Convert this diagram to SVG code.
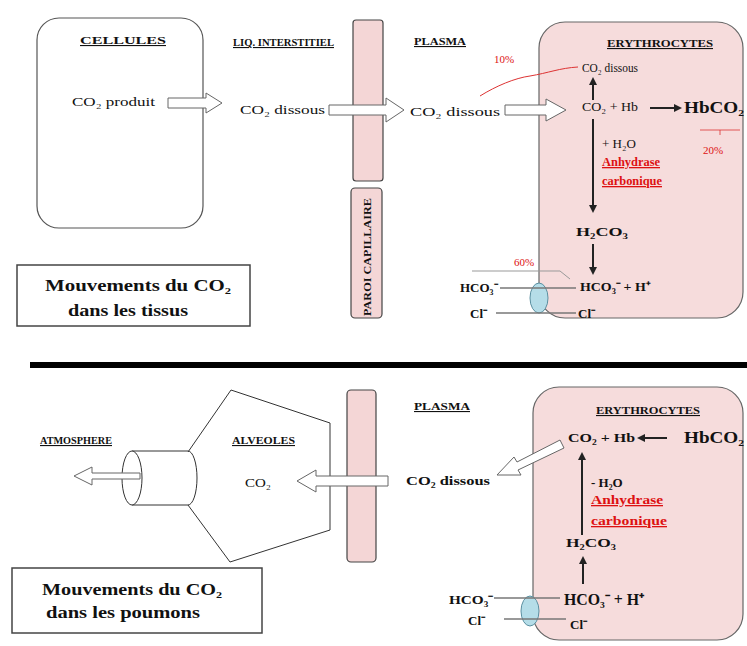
<svg xmlns="http://www.w3.org/2000/svg" width="747" height="646" viewBox="0 0 747 646">
  <defs>
    <style>
      text { font-family: "Liberation Serif", "Times New Roman", serif; fill: #111; }
      .hd { font-size: 11px; font-weight: bold; text-decoration: underline; }
      .lb { font-size: 13px; }
      .lbb { font-size: 13px; font-weight: bold; }
      .big { font-size: 16px; font-weight: bold; }
      .redu { fill: #d11; font-size: 13px; font-weight: bold; text-decoration: underline; }
      .redsm { fill: #d11; font-size: 11px; }
      .cap { font-size: 16px; font-weight: bold; }
      .cell { fill: #fff; stroke: #555; stroke-width: 1.2; }
      .ery { fill: #f6dcdc; stroke: #666; stroke-width: 1.2; }
      .wall { fill: #f4d6d6; stroke: #444; stroke-width: 1.2; }
      .hollow { fill: #fff; stroke: #666; stroke-width: 1; }
      .arr { stroke: #222; stroke-width: 2; fill: none; marker-end: url(#head); }
      .thin { stroke: #333; stroke-width: 1; fill: none; }
      .chan { fill: #b5dde8; stroke: #5a8fa0; stroke-width: 1; }
      .mem { stroke: #777; stroke-width: 1.5; fill: none; }
    </style>
    <marker id="head" markerWidth="8" markerHeight="8" refX="6" refY="4" orient="auto" markerUnits="userSpaceOnUse">
      <path d="M0,0 L8,4 L0,8 Z" fill="#222"/>
    </marker>
  </defs>

  <rect width="747" height="646" fill="#fff"/>

  <!-- ===== Tissues ===== -->
  <g id="cellules">
    <rect class="cell" x="37" y="18" width="166" height="210" rx="22"/>
    <text class="hd" x="80" y="44" textLength="86" lengthAdjust="spacingAndGlyphs">CELLULES</text>
    <text class="lb" x="72" y="106" textLength="83" lengthAdjust="spacingAndGlyphs">CO₂ produit</text>
  </g>

  <g id="liquide-interstitiel">
    <text class="hd" x="233" y="46" textLength="101" lengthAdjust="spacingAndGlyphs">LIQ. INTERSTITIEL</text>
    <text class="lb" x="240" y="114" textLength="85" lengthAdjust="spacingAndGlyphs">CO₂ dissous</text>
  </g>

  <g id="paroi-tissus">
    <rect class="wall" x="353" y="20" width="30" height="161" rx="3"/>
    <rect class="wall" x="351" y="188" width="31" height="130" rx="4"/>
    <text transform="translate(371,316) rotate(-90)" font-size="10" font-weight="bold" font-family="Liberation Sans, Arial, sans-serif" textLength="118" lengthAdjust="spacingAndGlyphs">PAROI CAPILLAIRE</text>
  </g>

  <g id="plasma-tissus">
    <text class="hd" x="414" y="45" textLength="52" lengthAdjust="spacingAndGlyphs">PLASMA</text>
    <text class="lb" x="410" y="116" textLength="90" lengthAdjust="spacingAndGlyphs">CO₂ dissous</text>
    <text class="redsm" x="494" y="63">10%</text>
  </g>

  <g id="erythrocyte-tissus">
    <rect class="ery" x="539" y="22" width="204" height="296" rx="26"/>
    <text class="hd" x="607" y="47" textLength="106" lengthAdjust="spacingAndGlyphs">ERYTHROCYTES</text>
    <text class="lb" x="582" y="72" font-size="11" textLength="56" lengthAdjust="spacingAndGlyphs">CO₂ dissous</text>
    <text class="lb" x="582" y="111" font-size="11" textLength="56" lengthAdjust="spacingAndGlyphs">CO₂ + Hb</text>
    <text class="big" x="684" y="113" textLength="60" lengthAdjust="spacingAndGlyphs">HbCO₂</text>
    <text class="redsm" x="703" y="154">20%</text>
    <text class="lb" x="602" y="148" font-size="11">+ H₂O</text>
    <text class="redu" x="602" y="166" textLength="58" lengthAdjust="spacingAndGlyphs">Anhydrase</text>
    <text class="redu" x="602" y="185" textLength="60" lengthAdjust="spacingAndGlyphs">carbonique</text>
    <text class="lbb" x="576" y="236" font-size="14" textLength="52" lengthAdjust="spacingAndGlyphs">H₂CO₃</text>
    <text class="lbb" x="580" y="291" font-size="11" textLength="70" lengthAdjust="spacingAndGlyphs">HCO₃⁻ + H⁺</text>
    <text class="lbb" x="578" y="318" font-size="11">Cl⁻</text>
  </g>

  <g id="echangeur-tissus">
    <text class="lbb" x="460" y="292" font-size="11">HCO₃⁻</text>
    <text class="lbb" x="470" y="318" font-size="11">Cl⁻</text>
    <text class="redsm" x="514" y="266">60%</text>
    <ellipse class="chan" cx="539" cy="298" rx="9" ry="15"/>
  </g>

  <g id="legende-tissus">
    <rect x="17" y="265" width="233" height="61" fill="#fff" stroke="#444" stroke-width="1.5"/>
    <text class="cap" x="45" y="291" textLength="186" lengthAdjust="spacingAndGlyphs">Mouvements du CO₂</text>
    <text class="cap" x="68" y="316" textLength="120" lengthAdjust="spacingAndGlyphs">dans les tissus</text>
  </g>

  <!-- divider -->
  <rect x="30" y="362" width="717" height="6" fill="#000"/>

  <!-- ===== Lungs ===== -->
  <g id="atmosphere">
    <text class="hd" x="40" y="444" textLength="72" lengthAdjust="spacingAndGlyphs">ATMOSPHERE</text>
  </g>

  <g id="alveoles">
    <path class="thin" d="M188,452 L231,390 L330,423 L330,530 L230,562 L188,505"/>
    <!-- airway drawn as a cylinder -->
    <path class="thin" d="M132,451 L188,451 A9,27 0 0 1 188,505 L132,505"/>
    <ellipse cx="132" cy="478" rx="10" ry="27" fill="#fff" stroke="#333" stroke-width="1"/>
    <text class="hd" x="232" y="444" textLength="63" lengthAdjust="spacingAndGlyphs">ALVEOLES</text>
    <text class="lb" x="245" y="487" textLength="26" lengthAdjust="spacingAndGlyphs">CO₂</text>
  </g>

  <g id="paroi-poumons">
    <rect class="wall" x="347" y="390" width="29" height="172" rx="4"/>
  </g>

  <g id="plasma-poumons">
    <text class="hd" x="414" y="410" textLength="56" lengthAdjust="spacingAndGlyphs">PLASMA</text>
    <text class="lbb" x="406" y="485" textLength="84" lengthAdjust="spacingAndGlyphs">CO₂ dissous</text>
  </g>

  <g id="erythrocyte-poumons">
    <rect class="ery" x="533" y="387" width="210" height="253" rx="26"/>
    <text class="hd" x="596" y="414" textLength="104" lengthAdjust="spacingAndGlyphs">ERYTHROCYTES</text>
    <text class="lbb" x="568" y="442" textLength="67" lengthAdjust="spacingAndGlyphs">CO₂ + Hb</text>
    <text class="big" x="684" y="443" textLength="60" lengthAdjust="spacingAndGlyphs">HbCO₂</text>
    <text class="lbb" x="591" y="487">- H₂O</text>
    <text class="redu" x="591" y="504" textLength="72" lengthAdjust="spacingAndGlyphs">Anhydrase</text>
    <text class="redu" x="591" y="525" textLength="76" lengthAdjust="spacingAndGlyphs">carbonique</text>
    <text class="lbb" x="566" y="547" font-size="12" textLength="50" lengthAdjust="spacingAndGlyphs">H₂CO₃</text>
    <text class="big" x="564" y="605" textLength="80" lengthAdjust="spacingAndGlyphs">HCO₃⁻ + H⁺</text>
    <text class="lbb" x="570" y="629">Cl⁻</text>
  </g>

  <g id="echangeur-poumons">
    <text class="lbb" x="449" y="604" font-size="12" textLength="44" lengthAdjust="spacingAndGlyphs">HCO₃⁻</text>
    <text class="lbb" x="468" y="625" font-size="12">Cl⁻</text>
    <ellipse class="chan" cx="530" cy="611" rx="9" ry="15"/>
  </g>

  <g id="legende-poumons">
    <rect x="12" y="568" width="250" height="65" fill="#fff" stroke="#444" stroke-width="1.5"/>
    <text class="cap" x="42" y="595" textLength="180" lengthAdjust="spacingAndGlyphs">Mouvements du CO₂</text>
    <text class="cap" x="46" y="618" textLength="154" lengthAdjust="spacingAndGlyphs">dans les poumons</text>
  </g>

  <!-- ===== Connectors ===== -->
  <g id="connecteurs">
    <!-- hollow transfer arrows -->
    <path class="hollow" d="M168,98 L206,98 L206,93 L222,103 L206,113 L206,108 L168,108 Z"/>
    <path class="hollow" d="M329,105 L386,105 L386,98 L404,110 L386,122 L386,115 L329,115 Z"/>
    <path class="hollow" d="M505,105 L546,105 L546,99 L566,110 L546,121 L546,115 L505,115 Z"/>
    <path class="hollow" d="M388,476 L316,476 L316,470 L297,481 L316,492 L316,486 L388,486 Z"/>
    <path class="hollow" d="M140,473 L92,473 L92,467 L74,476 L92,485 L92,479 L140,479 Z"/>
    <path class="hollow" d="M560,440 L517,462 L514,457 L497,475 L521,475 L518,470 L564,448 Z"/>

    <!-- dissolved fraction (10 %) -->
    <path d="M480,96 C496,86 515,78 530,76 C548,73 560,68 578,67" stroke="#d33" stroke-width="1" fill="none"/>

    <!-- reactions, tissues -->
    <line class="arr" x1="593" y1="100" x2="593" y2="79"/>
    <line class="arr" x1="650" y1="108" x2="680" y2="108"/>
    <line class="arr" x1="593" y1="119" x2="593" y2="211"/>
    <line class="arr" x1="593" y1="244" x2="593" y2="273"/>
    <path d="M700,130 L740,130 M720,130 L720,135" stroke="#d33" stroke-width="0.8" fill="none"/>

    <!-- exchanger, tissues -->
    <path d="M472,271 L560,271 L570,279" stroke="#999" stroke-width="1" fill="none"/>
    <line class="mem" x1="500" y1="288" x2="576" y2="288"/>
    <line class="mem" x1="496" y1="313" x2="576" y2="313"/>

    <!-- reactions, lungs -->
    <line class="arr" x1="667" y1="438" x2="639" y2="438"/>
    <line class="arr" x1="582" y1="535" x2="582" y2="454"/>
    <line class="arr" x1="583" y1="584" x2="583" y2="558"/>

    <!-- exchanger, lungs -->
    <line class="mem" x1="494" y1="598" x2="560" y2="598"/>
    <line class="mem" x1="504" y1="619" x2="566" y2="619"/>
  </g>
</svg>
